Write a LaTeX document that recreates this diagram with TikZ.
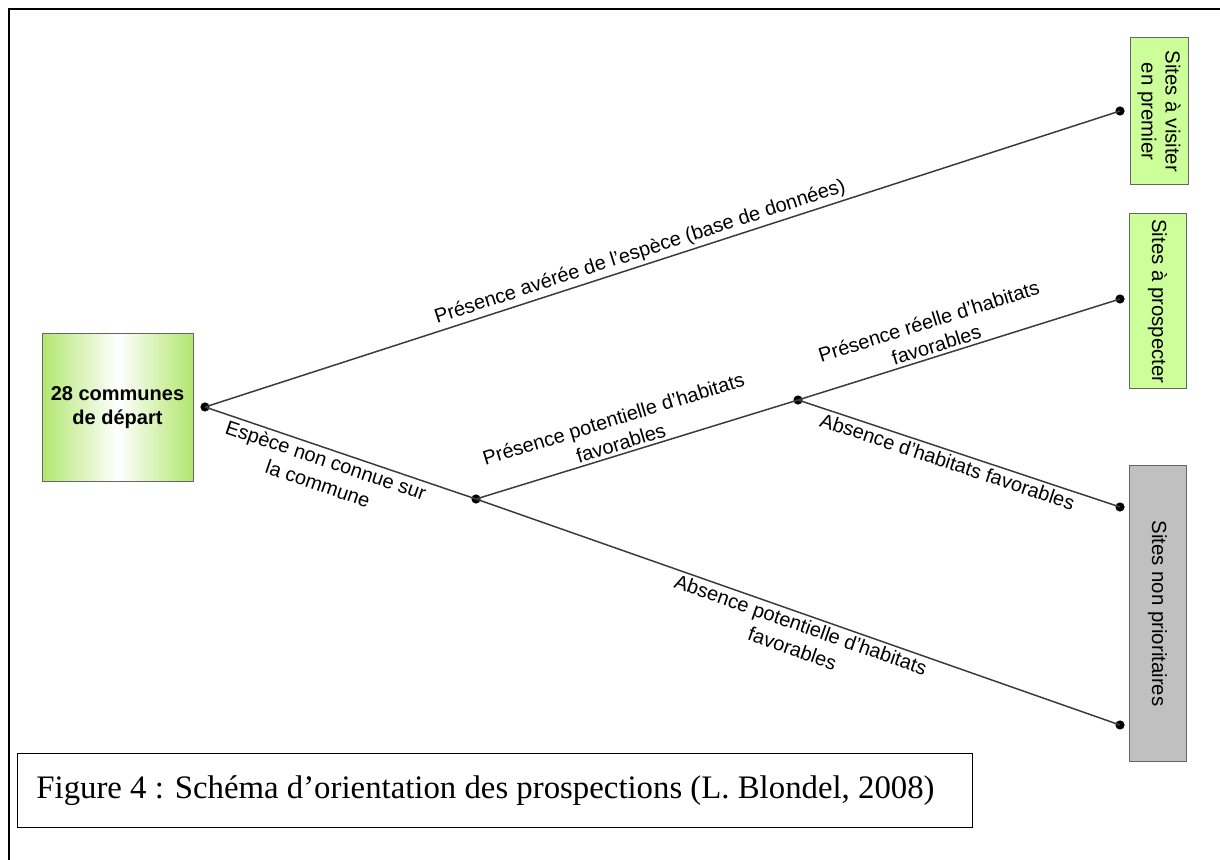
\documentclass[tikz,border=0pt]{standalone}
\usepackage{fontspec}
\setmainfont{Liberation Serif}
\setsansfont{Liberation Sans}
\usepackage{tikz}
\usetikzlibrary{calc}

\definecolor{sitegreen}{RGB}{204,255,153}
\definecolor{startgreen}{RGB}{178,230,110}
\definecolor{nongray}{RGB}{192,192,192}
\definecolor{linegray}{RGB}{60,60,60}

\begin{document}
\begin{tikzpicture}[x=0.5pt, y=-0.5pt,
  every node/.style={font=\sffamily\fontsize{10}{12.5}\selectfont},
  branch/.style={draw=linegray, line width=0.75pt},
  dot/.style={circle, fill=black, inner sep=0pt, minimum size=4.6pt},
  lbl/.style={sloped, align=center, inner sep=1.5pt},
  sitebox/.style={draw=black!60, line width=0.5pt, rotate=-90, align=center,
    font=\sffamily\fontsize{10.2}{12}\selectfont, inner sep=0pt}]
\useasboundingbox (0,0) rectangle (1220,860);
%% --- frame ---
\draw[line width=1.1pt] (9,870) -- (9,9) -- (1230,9);
%% --- start ---
\node[draw=black!60, line width=0.5pt, left color=startgreen, right color=startgreen,
  middle color=white, minimum width=75.5pt, minimum height=74pt, align=center,
  font=\sffamily\bfseries\fontsize{10}{12}\selectfont] (depart) at (117.5,408)
  {28 communes\\de départ};
%% --- junctions ---
\node[dot] (d0) at (205,407) {};
\node[dot] (d1) at (476,499) {};
\node[dot] (d2) at (798,400) {};
\node[dot] (e1) at (1120,111) {};
\node[dot] (e2) at (1120,299) {};
\node[dot] (e3) at (1120,507) {};
\node[dot] (e4) at (1120,725) {};
%% --- branches ---
\draw[branch] (d0.center) -- node[lbl, above, pos=0.48]
  {Présence avérée de l'espèce (base de données)} (e1.center);
\draw[branch] (d0.center) -- node[lbl, below, pos=0.46]
  {Espèce non connue sur\\la commune} (d1.center);
\draw[branch] (d1.center) -- node[lbl, above, pos=0.46]
  {Présence potentielle d'habitats\\favorables} (d2.center);
\draw[branch] (d2.center) -- node[lbl, above, pos=0.44]
  {Présence réelle d'habitats\\favorables} (e2.center);
\draw[branch] (d2.center) -- node[lbl, below, pos=0.475]
  {Absence d'habitats favorables} (e3.center);
\draw[branch] (d1.center) -- node[lbl, below, pos=0.51]
  {Absence potentielle d'habitats\\favorables} (e4.center);
%% --- outcomes ---
\node[sitebox, fill=sitegreen, minimum width=73.5pt, minimum height=29pt]
  (visiter) at (1159,111.5) {Sites à visiter\\en premier};
\node[sitebox, fill=sitegreen, minimum width=87.5pt, minimum height=28.5pt]
  (prospecter) at (1157.5,301.5) {Sites à prospecter};
\node[sitebox, fill=nongray, minimum width=148pt, minimum height=28.5pt]
  (nonprio) at (1157.5,613.5) {Sites non prioritaires};
%% --- caption ---
\node[draw, line width=0.6pt, minimum width=477.5pt, minimum height=37pt,
  anchor=north west, inner sep=0pt] (cadre) at (17,753) {};
\node[anchor=west, font=\rmfamily\fontsize{16.4}{19}\selectfont, inner sep=0pt]
  (legende) at ($(cadre.west)+(19,0)$)
  {Figure 4 : Schéma d’orientation des prospections (L. Blondel, 2008)};
\end{tikzpicture}
\end{document}
